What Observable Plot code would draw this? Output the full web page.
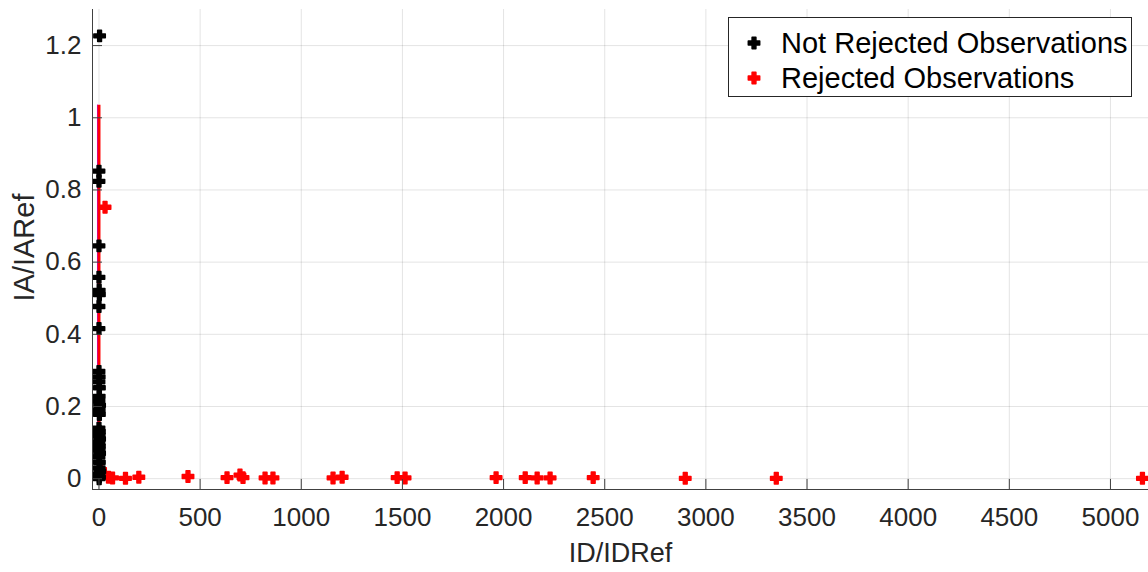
<!DOCTYPE html>
<html>
<head>
<meta charset="utf-8">
<script src="https://cdn.jsdelivr.net/npm/d3@7"></script>
<script src="https://cdn.jsdelivr.net/npm/@observablehq/plot@0.6"></script>
<style>
  html, body { margin: 0; padding: 0; background: #fff; }
  #wrap { position: relative; width: 1148px; height: 572px; overflow: hidden; }
  #legend {
    position: absolute; left: 728px; top: 17px; width: 402px; height: 78px;
    border: 1px solid #262626; background: #fff;
    font-family: "Liberation Sans", Arial, sans-serif; font-size: 29px; color: #000;
  }
  .row { position: absolute; left: 0; height: 34px; display: flex; align-items: center; white-space: nowrap; }
  .row svg { margin-left: 18px; margin-right: 20px; }
</style>
</head>
<body>
<div id="wrap">
  <div id="chart"></div>
  <div id="legend">
    <div class="row" style="top:8px"><svg width="14" height="14" viewBox="-7 -7 14 14"><path id="m1" fill="#000" stroke="#000"/></svg><span>Not Rejected Observations</span></div>
    <div class="row" style="top:43px"><svg width="14" height="14" viewBox="-7 -7 14 14"><path id="m2" fill="#ff0000" stroke="#ff0000"/></svg><span>Rejected Observations</span></div>
  </div>
</div>
<script>
// ---- data ----
const notRejectedX = [3, 0, 0, 0, 0, 1, 2, 0, 0, 0, 1, 0, 2, 1, 0, 3, 1, 2, 0, 2, 1, 3, 0, 2, 1, 3, 0, 2, 1, 4, 0, 2, 1];
const notRejectedY = [1.227, 0.852, 0.824, 0.645, 0.558, 0.522, 0.51, 0.477, 0.416, 0.297, 0.282, 0.268, 0.252, 0.228, 0.215, 0.203, 0.19, 0.178, 0.14, 0.13, 0.12, 0.11, 0.1, 0.09, 0.08, 0.07, 0.06, 0.045, 0.03, 0.02, 0.012, 0.005, 0.0];

const rejectedX = [8, 30, 47, 67, 131, 197, 440, 633, 697, 712, 821, 860, 1157, 1202, 1474, 1513, 1963, 2107, 2166, 2230, 2443, 2898, 3348, 5158];
const rejectedY = [0.025, 0.752, 0.004, 0.002, 0.001, 0.004, 0.006, 0.003, 0.01, 0.003, 0.002, 0.002, 0.002, 0.004, 0.003, 0.002, 0.003, 0.003, 0.002, 0.002, 0.003, 0.001, 0.001, 0.001];

const thresholdX = [0];
const thresholdY1 = [0];
const thresholdY2 = [1.035];

const xTicks = [0, 500, 1000, 1500, 2000, 2500, 3000, 3500, 4000, 4500, 5000];
const xTickLabels = ["0", "500", "1000", "1500", "2000", "2500", "3000", "3500", "4000", "4500", "5000"];
const yTicks = [0, 0.2, 0.4, 0.6, 0.8, 1, 1.2];
const yTickLabels = ["0", "0.2", "0.4", "0.6", "0.8", "1", "1.2"];

const xLabel = "ID/IDRef";
const yLabel = "IA/IARef";

// ---- tables ----
const notRejected = notRejectedX.map((x, i) => ({x, y: notRejectedY[i]}));
const rejected = rejectedX.map((x, i) => ({x, y: rejectedY[i]}));
const threshold = thresholdX.map((x, i) => ({x, y1: thresholdY1[i], y2: thresholdY2[i]}));
const xT = xTicks.map((v, i) => ({v, t: xTickLabels[i]}));
const yT = yTicks.map((v, i) => ({v, t: yTickLabels[i]}));

const font = "'Liberation Sans', Arial, sans-serif";
const axisColor = "#404040";
const textColor = "#262626";

const chart = Plot.plot({
  width: 1148,
  height: 572,
  marginLeft: 92,
  marginRight: 0,
  marginTop: 9,
  marginBottom: 83,
  style: {fontFamily: font, background: "#fff", color: textColor, overflow: "hidden"},
  x: {domain: [-32, 5188], axis: null},
  y: {domain: [-0.03, 1.3], axis: null},
  marks: [
    Plot.ruleX(xT, {x: "v", stroke: "#000", strokeOpacity: 0.11}),
    Plot.ruleY(yT, {y: "v", stroke: "#000", strokeOpacity: 0.11}),
    Plot.ruleX(threshold, {x: "x", y1: "y1", y2: "y2", stroke: "#b400ff", strokeWidth: 1, dx: -1.5}),
    Plot.ruleX(threshold, {x: "x", y1: "y1", y2: "y2", stroke: "#ff0000", strokeWidth: 3}),
    Plot.dot(rejected, {x: "x", y: "y", symbol: "cross", r: 4.8, fill: "#ff0000", stroke: "#ff0000", strokeWidth: 1.5, strokeLinejoin: "round"}),
    Plot.dot(notRejected, {x: "x", y: "y", symbol: "cross", r: 4.8, fill: "#000", stroke: "#000", strokeWidth: 1.5, strokeLinejoin: "round"}),
    // axis lines
    Plot.ruleX([-32], {stroke: axisColor, strokeWidth: 1}),
    Plot.ruleY([-0.03], {stroke: axisColor, strokeWidth: 1}),
    // inward ticks
    Plot.tickX(xT, {x: "v", insetTop: 470, stroke: axisColor}),
    Plot.tickY(yT, {y: "v", insetRight: 1046, stroke: axisColor}),
    // tick labels
    Plot.text(xT, {x: "v", text: "t", frameAnchor: "bottom", lineAnchor: "middle", dy: 28, fontSize: 26, fill: textColor}),
    Plot.text(yT, {y: "v", text: "t", frameAnchor: "left", textAnchor: "end", lineAnchor: "middle", dx: -11, fontSize: 26, fill: textColor}),
    // axis labels
    Plot.text([xLabel], {frameAnchor: "bottom", textAnchor: "middle", lineAnchor: "middle", dy: 64, fontSize: 27, fill: textColor}),
    Plot.text([yLabel], {frameAnchor: "left", textAnchor: "middle", lineAnchor: "middle", rotate: -90, dx: -68, dy: -2, fontSize: 29, fill: textColor})
  ]
});
document.getElementById("chart").appendChild(chart);

// legend markers through d3's symbol generator
const sym = d3.symbol(d3.symbolCross, Math.PI * 4.8 * 4.8)();
document.getElementById("m1").setAttribute("d", sym);
document.getElementById("m2").setAttribute("d", sym);
document.querySelectorAll("#legend path").forEach(p => { p.setAttribute("stroke-width", 1.5); p.setAttribute("stroke-linejoin", "round"); });
</script>
</body>
</html>
